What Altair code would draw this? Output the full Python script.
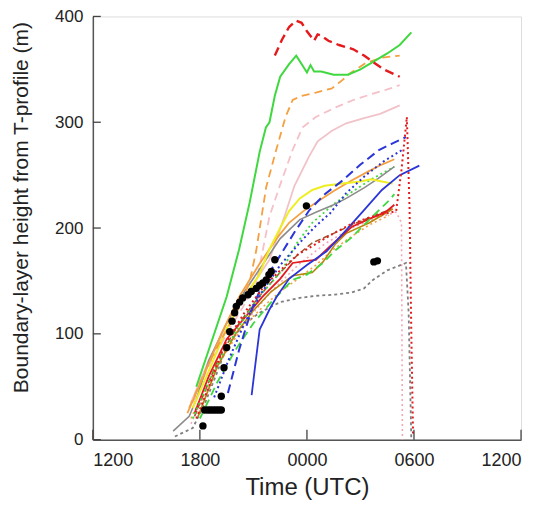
import altair as alt
import pandas as pd

# ---------------- data (hours after 1200 UTC, metres) ----------------
X_TICKS = [0, 6, 12, 18, 24]
X_TICK_LABELS = ["1200", "1800", "0000", "0600", "1200"]
Y_TICKS = [0, 100, 200, 300, 400]

green_solid_t = [5.8, 6.5, 7.5, 8.2, 8.8, 9.35, 9.7, 9.9, 10.2, 10.5, 11.0, 11.4, 11.7, 12.0, 12.2, 12.4, 12.8, 13.5, 14.3, 15.0, 15.8, 16.5, 17.2, 17.85]
green_solid_v = [50, 85, 135, 180, 225, 272, 295, 300, 325, 343, 355, 363, 355, 347, 354, 348, 348, 345, 345, 350, 358, 365, 373, 385]

red_dash_t = [10.2, 10.6, 11.0, 11.4, 11.7, 12.0, 12.4, 12.6, 12.8, 13.2, 13.8, 14.6, 15.2, 15.7, 16.3, 17.2]
red_dash_v = [363, 378, 390, 396, 394, 386, 377, 383, 382, 377, 373, 369, 363, 357, 350, 343]

orange_dash_t = [5.4, 6.3, 7.2, 7.9, 8.4, 8.8, 9.16, 9.72, 10.28, 10.8, 11.2, 11.7, 12.5, 13.4, 14.0, 14.4, 15.3, 16.2, 17.2]
orange_dash_v = [30, 65, 95, 115, 132, 150, 179, 239, 274, 305, 321, 325, 328, 332, 340, 346, 356, 361, 363]

pink_dash_t = [5.6, 6.5, 7.5, 8.4, 9.16, 9.9, 10.46, 11.2, 11.75, 12.5, 13.6, 14.6, 15.7, 16.5, 17.2]
pink_dash_v = [35, 70, 100, 125, 148, 211, 239, 274, 295, 305, 314, 321, 327, 331, 335]

pink_solid_t = [5.5, 6.5, 7.5, 8.5, 9.3, 9.9, 10.8, 11.3, 12.1, 12.6, 13.4, 14.2, 15.2, 16.1, 17.2]
pink_solid_v = [35, 75, 105, 135, 155, 170, 214, 240, 267, 282, 292, 299, 304, 308, 316]

blue_dash_t = [7.57, 8.2, 8.9, 9.6, 10.46, 11.3, 12.14, 13.0, 14.0, 15.0, 16.06, 16.8, 17.55]
blue_dash_v = [44, 85, 123, 150, 173, 196, 217, 232, 245, 260, 274, 280, 286]

blue_dot_t = [6.8, 7.6, 8.5, 9.5, 10.5, 11.75, 12.5, 13.3, 14.2, 15.3, 16.3, 17.35]
blue_dot_v = [40, 75, 110, 140, 165, 189, 202, 214, 233, 250, 263, 274]

blue_solid_t = [8.9, 9.1, 9.35, 9.9, 10.3, 11.0, 12.0, 13.1, 14.2, 15.2, 16.2, 17.2, 18.3]
blue_solid_v = [42, 70, 104, 123, 135, 152, 165, 178, 198, 217, 236, 250, 259]

red_dot_t = [5.8, 6.5, 7.4, 8.5, 9.6, 10.5, 11.5, 12.5, 13.5, 14.5, 15.5, 16.5, 17.0, 17.3, 17.6, 17.75, 17.85, 17.95]
red_dot_v = [20, 50, 90, 120, 145, 160, 175, 185, 195, 204, 210, 214, 216, 255, 305, 220, 100, 3]

gray_dot_t = [4.6, 5.6, 6.3, 7.0, 7.5, 8.4, 9.35, 10.5, 11.6, 12.5, 13.5, 14.5, 15.2, 15.7, 16.5, 17.55, 17.7, 17.85]
gray_dot_v = [3, 11, 35, 65, 88, 108, 120, 130, 134, 136, 137, 139, 143, 151, 160, 167, 120, 0]

gray_solid_t = [4.5, 5.4, 5.8, 6.5, 7.5, 8.5, 9.5, 10.5, 11.6, 12.5, 13.5, 14.2, 15.2, 16.0, 16.9]
gray_solid_v = [8, 22, 38, 75, 110, 140, 165, 190, 208, 215, 222, 228, 238, 247, 258]

yellow_t = [5.6, 6.5, 7.5, 8.5, 9.3, 9.9, 10.5, 11.0, 11.6, 12.3, 13.0, 14.0, 15.0, 15.6, 16.2, 16.8]
yellow_v = [30, 65, 105, 135, 155, 180, 200, 216, 228, 236, 240, 242, 244, 246, 244, 242]

orange_solid_t = [5.3, 6.2, 7.2, 8.2, 9.3, 10.3, 11.0, 11.8, 12.6, 13.5, 14.5, 15.5, 16.2, 16.9]
orange_solid_v = [25, 60, 100, 135, 165, 190, 205, 216, 225, 235, 245, 254, 260, 265]

green_dot_t = [5.6, 6.5, 7.4, 8.3, 9.3, 10.6, 11.4, 12.3, 13.6, 14.6, 15.6, 16.9]
green_dot_v = [20, 55, 85, 110, 135, 160, 185, 205, 224, 235, 246, 258]

green_dash_t = [6.0, 7.0, 8.0, 9.0, 10.0, 11.2, 12.0, 12.9, 13.6, 14.5, 15.5, 16.6, 16.9]
green_dash_v = [20, 55, 85, 110, 130, 151, 156, 167, 179, 191, 208, 226, 232]

red_solid_t = [5.7, 6.5, 7.5, 8.5, 9.5, 10.5, 11.2, 12.0, 12.5, 13.3, 14.5, 15.4, 16.4, 16.9]
red_solid_v = [25, 60, 95, 115, 135, 152, 167, 169, 170, 183, 201, 208, 215, 222]

brown_solid_t = [5.9, 7.0, 8.0, 9.0, 10.0, 11.2, 12.3, 12.9, 13.6, 14.2, 15.5, 16.8]
brown_solid_v = [22, 70, 100, 122, 140, 155, 158, 168, 185, 195, 205, 218]

brown_dash_t = [5.7, 7.0, 8.2, 9.3, 10.5, 11.5, 12.3, 13.5, 14.8, 16.1, 16.8]
brown_dash_v = [22, 75, 110, 135, 158, 175, 186, 195, 205, 214, 218]

orange_dot_t = [5.5, 6.5, 7.5, 8.5, 9.5, 10.5, 11.5, 12.5, 13.5, 14.5, 15.5, 16.6]
orange_dot_v = [20, 55, 85, 108, 125, 140, 152, 165, 180, 192, 203, 212]

pink_dot_t = [5.5, 7.0, 8.5, 10.0, 11.5, 13.0, 14.5, 16.0, 17.0, 17.3, 17.35]
pink_dot_v = [15, 70, 110, 140, 165, 185, 200, 210, 215, 205, 0]

obs_t = [6.17, 6.27, 6.45, 6.6, 6.75, 6.9, 7.05, 7.2, 7.2, 7.35, 7.5, 7.67, 7.8, 7.95, 8.04, 8.23, 8.4, 8.7, 8.88, 9.16, 9.35, 9.53, 9.72, 9.87, 10.0, 10.2, 11.97, 15.75, 15.95]
obs_v = [13, 28, 28, 28, 28, 28, 28, 28, 41, 68, 87, 102, 112, 120, 126, 130, 134, 137, 140, 143, 146, 148, 151, 156, 159, 170, 221, 168, 169]

# series: (times, values, colour, dash, width)
SERIES = [
    (pink_dot_t, pink_dot_v, "#f4a6b8", [2, 3], 1.6),
    (gray_dot_t, gray_dot_v, "#7f7f7f", [3, 3], 1.8),
    (pink_solid_t, pink_solid_v, "#f1c2c8", None, 1.8),
    (pink_dash_t, pink_dash_v, "#f5c0c8", [8, 5], 1.8),
    (orange_dot_t, orange_dot_v, "#f5a040", [2, 3], 1.6),
    (brown_dash_t, brown_dash_v, "#a0522d", [6, 3], 1.5),
    (brown_solid_t, brown_solid_v, "#b8860b", None, 1.6),
    (red_solid_t, red_solid_v, "#e41a1c", None, 1.8),
    (green_dash_t, green_dash_v, "#3fd83f", [8, 5], 1.8),
    (green_dot_t, green_dot_v, "#3fd83f", [2, 3], 1.8),
    (gray_solid_t, gray_solid_v, "#8c8c8c", None, 1.6),
    (orange_solid_t, orange_solid_v, "#f5a040", None, 1.8),
    (yellow_t, yellow_v, "#eeee22", None, 2.0),
    (blue_dot_t, blue_dot_v, "#2b35d8", [2, 3], 2.0),
    (blue_dash_t, blue_dash_v, "#2b35d8", [9, 5], 2.0),
    (blue_solid_t, blue_solid_v, "#2b35d8", None, 1.8),
    (red_dot_t, red_dot_v, "#e41a1c", [2, 3], 2.0),
    (orange_dash_t, orange_dash_v, "#f5a040", [8, 5], 1.8),
    (green_solid_t, green_solid_v, "#3fd83f", None, 2.0),
    (red_dash_t, red_dash_v, "#e41a1c", [9, 5], 2.4),
]

FONT = "Liberation Sans"

x_scale = alt.Scale(domain=[0, 24], nice=False, zero=False)
y_scale = alt.Scale(domain=[0, 400], nice=False)

label_expr = "[" + ",".join("'%s'" % s for s in X_TICK_LABELS) + "][round(datum.value/6)]"

x_axis = alt.Axis(values=X_TICKS, labelExpr=label_expr, title="Time (UTC)", ticks=False,
                  grid=False, labelFontSize=18, titleFontSize=24, labelPadding=12,
                  titlePadding=6, labelFont=FONT, titleFont=FONT, titleFontWeight="normal",
                  labelColor="#222", titleColor="#222", domainColor="#555", domainWidth=1.5)
y_axis = alt.Axis(values=Y_TICKS, title="Boundary-layer height from T-profile (m)", ticks=False,
                  grid=False, labelFontSize=17, titleFontSize=21, labelPadding=10,
                  titleAngle=270, titleX=-71, titleY=191, titleAlign="center",
                  titleBaseline="middle",
                  labelFont=FONT, titleFont=FONT, titleFontWeight="normal",
                  labelColor="#222", titleColor="#222", domainColor="#555", domainWidth=1.5)

X_ENC = alt.X("t:Q", scale=x_scale, axis=x_axis)
Y_ENC = alt.Y("v:Q", scale=y_scale, axis=y_axis)

layers = []
for i, (t, v, color, dash, w) in enumerate(SERIES):
    df = pd.DataFrame({"t": t, "v": v, "order": range(len(t))})
    kw = dict(color=color, strokeWidth=w, clip=True)
    if dash:
        kw["strokeDash"] = dash
    layers.append(alt.Chart(df).mark_line(**kw).encode(x=X_ENC, y=Y_ENC, order="order:Q"))

obs_df = pd.DataFrame({"t": obs_t, "v": obs_v})
layers.append(alt.Chart(obs_df).mark_circle(size=55, color="black", opacity=1).encode(
    x=X_ENC, y=Y_ENC))

# inward tick marks
xt_df = pd.DataFrame({"t": X_TICKS})
layers.append(alt.Chart(xt_df).mark_rule(color="#444", strokeWidth=1.3).encode(
    x=X_ENC, y=alt.value(424), y2=alt.value(414)))
yt_df = pd.DataFrame({"v": Y_TICKS})
layers.append(alt.Chart(yt_df).mark_rule(color="#444", strokeWidth=1.3).encode(
    y=Y_ENC, x=alt.value(0), x2=alt.value(8)))

chart = alt.layer(*layers).properties(
    width=429, height=424,
    autosize=alt.AutoSizeParams(type="none"),
    padding={"left": 85, "top": 8, "right": 20, "bottom": 60},
).configure_view(stroke="#555", strokeWidth=1.5).configure(background="white")

chart.save("out.html", embed_options={"renderer": "svg", "actions": False})
